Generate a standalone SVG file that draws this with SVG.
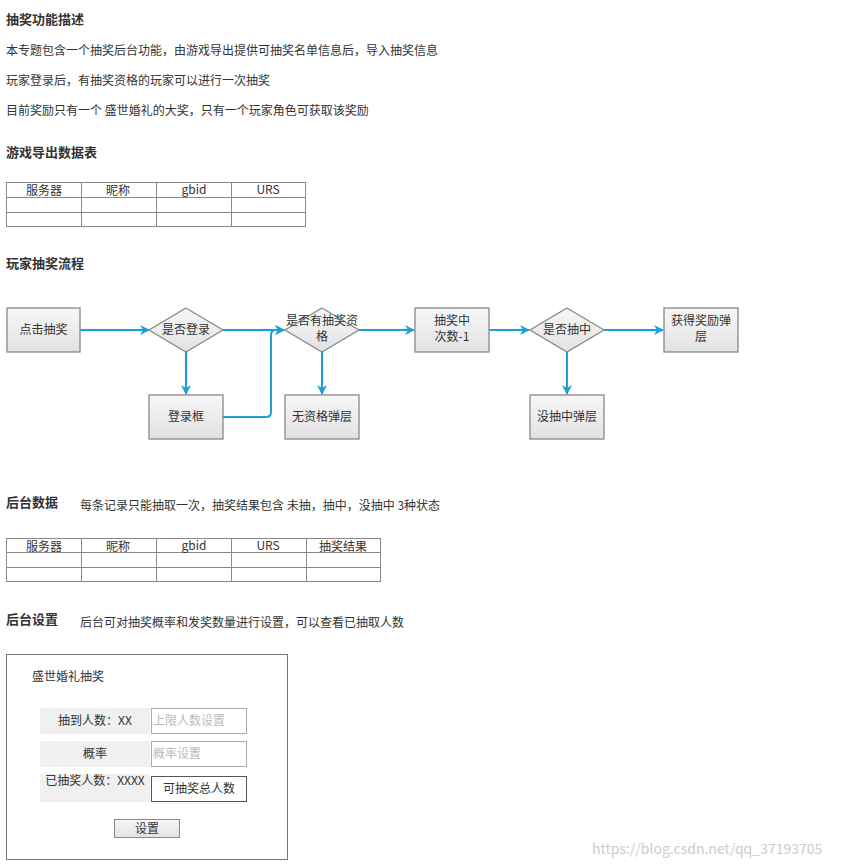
<svg xmlns="http://www.w3.org/2000/svg" width="844" height="867" viewBox="0 0 844 867">
<defs>
<style>
text{font-family:"Noto Sans CJK SC","Liberation Sans",sans-serif;font-size:12px;fill:#333}
.h{font-weight:bold;font-size:13px}
.c{text-anchor:middle}
.tb{fill:none;stroke:#888;stroke-width:1}
.box{fill:url(#g);stroke:#888;stroke-width:1.3}
.ln{fill:none;stroke:#1ba1d5;stroke-width:2;marker-end:url(#a)}
</style>
<linearGradient id="g" x1="0" y1="0" x2="0" y2="1"><stop offset="0" stop-color="#f7f7f7"/><stop offset="1" stop-color="#e2e2e2"/></linearGradient>
<marker id="a" viewBox="0 0 10 10" refX="9" refY="5" markerWidth="5" markerHeight="5" orient="auto"><path d="M0,0 L10,5 L0,10 L3,5 Z" fill="#1ba1d5"/></marker>
</defs>
<rect width="844" height="867" fill="#fff"/>
<text class="h" x="6" y="24">抽奖功能描述</text>
<text x="6" y="55">本专题包含一个抽奖后台功能，由游戏导出提供可抽奖名单信息后，导入抽奖信息</text>
<text x="6" y="85">玩家登录后，有抽奖资格的玩家可以进行一次抽奖</text>
<text x="6" y="115">目前奖励只有一个 盛世婚礼的大奖，只有一个玩家角色可获取该奖励</text>
<text class="h" x="6" y="157">游戏导出数据表</text>
<g id="table1">
<rect class="tb" x="6.5" y="182.5" width="299" height="44"/>
<path class="tb" d="M6.5,197.5H305.5M6.5,212.5H305.5M81.5,182.5V226.5M156.5,182.5V226.5M231.5,182.5V226.5"/>
<text class="c" x="44" y="195">服务器</text><text class="c" x="118" y="195">昵称</text><text class="c" x="194" y="194">gbid</text><text class="c" x="268" y="194">URS</text>
</g>
<text class="h" x="6" y="268">玩家抽奖流程</text>
<g id="connectors">
<path class="ln" d="M80,330H149"/>
<path class="ln" d="M223,330H284"/>
<path class="ln" d="M186,352V394"/>
<path class="ln" d="M223,417H266Q271,417 271,412V335Q271,330 276,330H284"/>
<path class="ln" d="M359,330H414"/>
<path class="ln" d="M322,352V394"/>
<path class="ln" d="M489,330H529"/>
<path class="ln" d="M604,330H663"/>
<path class="ln" d="M567,352V394"/>
</g>
<g id="n1"><rect class="box" x="7" y="308" width="73" height="44"/><text class="c" x="43.5" y="334">点击抽奖</text></g>
<g id="n2"><path class="box" d="M186,308L223,330L186,352L149,330Z"/><text class="c" x="186" y="334">是否登录</text></g>
<g id="n3"><rect class="box" x="149" y="395" width="74" height="44"/><text class="c" x="186" y="421">登录框</text></g>
<g id="n4"><path class="box" d="M322,308L359,330L322,352L285,330Z"/><text class="c" x="322" y="325">是否有抽奖资</text><text class="c" x="322" y="341">格</text></g>
<g id="n5"><rect class="box" x="285" y="395" width="74" height="44"/><text class="c" x="322" y="421">无资格弹层</text></g>
<g id="n6"><rect class="box" x="415" y="308" width="74" height="44"/><text class="c" x="452" y="325">抽奖中</text><text class="c" x="452" y="341">次数-1</text></g>
<g id="n7"><path class="box" d="M567,308L604,330L567,352L530,330Z"/><text class="c" x="567" y="334">是否抽中</text></g>
<g id="n8"><rect class="box" x="530" y="395" width="74" height="44"/><text class="c" x="567" y="421">没抽中弹层</text></g>
<g id="n9"><rect class="box" x="664" y="308" width="74" height="44"/><text class="c" x="701" y="325">获得奖励弹</text><text class="c" x="701" y="341">层</text></g>
<text class="h" x="6" y="507">后台数据</text>
<text x="80" y="510">每条记录只能抽取一次，抽奖结果包含 未抽，抽中，没抽中 3种状态</text>
<g id="table2">
<rect class="tb" x="6.5" y="538.5" width="374" height="43"/>
<path class="tb" d="M6.5,552.5H380.5M6.5,567.5H380.5M81.5,538.5V581.5M156.5,538.5V581.5M231.5,538.5V581.5M306.5,538.5V581.5"/>
<text class="c" x="44" y="551">服务器</text><text class="c" x="118" y="551">昵称</text><text class="c" x="194" y="550">gbid</text><text class="c" x="268" y="550">URS</text><text class="c" x="343" y="551">抽奖结果</text>
</g>
<text class="h" x="6" y="624">后台设置</text>
<text x="80" y="627">后台可对抽奖概率和发奖数量进行设置，可以查看已抽取人数</text>
<g id="panel">
<rect x="6.5" y="654.5" width="281" height="205" fill="#fff" stroke="#777"/>
<text x="32" y="681">盛世婚礼抽奖</text>
<rect x="40" y="708" width="110" height="26" fill="#f0f0f0"/>
<text class="c" x="95" y="725">抽到人数：XX</text>
<rect x="151.5" y="708.5" width="95" height="25" fill="#fff" stroke="#aaa"/>
<text x="153" y="725" style="fill:#bbb">上限人数设置</text>
<rect x="40" y="741" width="110" height="26" fill="#f0f0f0"/>
<text class="c" x="95" y="758">概率</text>
<rect x="151.5" y="741.5" width="95" height="25" fill="#fff" stroke="#aaa"/>
<text x="153" y="758" style="fill:#bbb">概率设置</text>
<rect x="40" y="774" width="110" height="28" fill="#f0f0f0"/>
<text class="c" x="95" y="785">已抽奖人数：XXXX</text>
<rect x="151.5" y="776.5" width="95" height="25" fill="#fff" stroke="#555"/>
<text class="c" x="199" y="793">可抽奖总人数</text>
<rect x="114.5" y="819.5" width="65" height="18" fill="url(#g)" stroke="#888"/>
<text class="c" x="147" y="833">设置</text>
</g>
<text x="592" y="854" style="fill:#ccc;font-size:14px">https://blog.csdn.net/qq_37193705</text>
</svg>
